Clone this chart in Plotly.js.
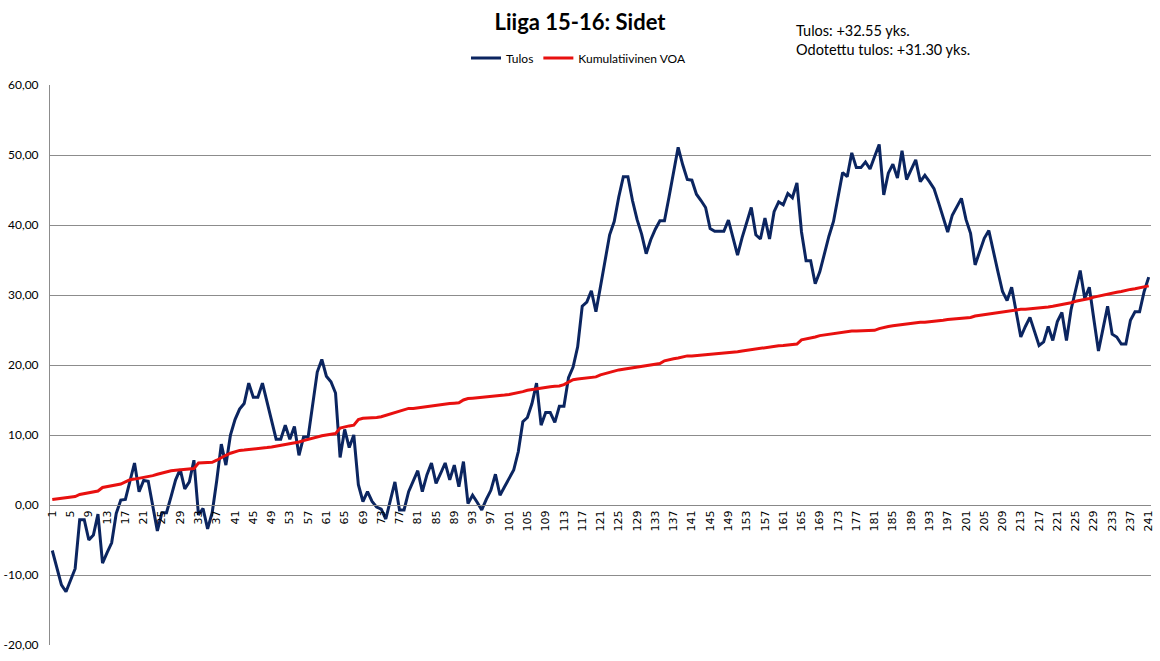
<!DOCTYPE html>
<html>
<head>
<meta charset="utf-8">
<script src="https://cdn.plot.ly/plotly-3.0.1.min.js"></script>
<style>
html,body{margin:0;padding:0;background:#fff;}
#chart{width:1160px;height:661px;}
</style>
</head>
<body>
<div id="chart"></div>
<script>
const tulos = [
-6.5,-8.9,-11.4,-12.4,-10.6,-9.1,-2.1,-2.1,-5.0,-4.3,
-1.3,-8.3,-6.8,-5.4,-1.2,0.7,0.8,3.3,6.0,1.9,
3.5,3.4,0.0,-3.7,-1.1,-1.1,1.2,3.6,5.1,2.3,
3.3,6.4,-1.4,-0.5,-3.4,-1.1,3.5,8.7,5.7,10.0,
12.2,13.7,14.5,17.4,15.4,15.4,17.4,14.8,12.1,9.4,
9.4,11.4,9.4,11.2,7.1,9.7,9.7,14.5,19.0,20.8,
18.4,17.6,16.0,6.8,10.8,8.2,10.0,2.9,0.5,1.9,
0.5,-0.3,-0.6,-2.0,0.8,3.3,-0.7,-0.7,1.9,3.4,
4.9,1.9,4.3,6.0,3.1,4.5,6.0,3.6,5.7,2.6,
6.2,0.2,1.4,0.4,-0.7,0.8,2.1,4.4,1.4,2.6,
3.9,5.0,7.6,11.9,12.5,14.5,17.4,11.4,13.2,13.2,
11.8,14.1,14.1,18.2,19.7,22.6,28.4,29.0,30.6,27.6,
31.2,35.0,38.6,40.5,44.0,46.9,46.9,43.5,40.8,38.7,
35.9,37.9,39.4,40.6,40.6,44.0,47.5,51.1,48.6,46.5,
46.4,44.4,43.5,42.5,39.5,39.1,39.1,39.1,40.7,38.2,
35.7,38.2,40.4,42.5,38.6,38.0,41.0,38.0,41.9,43.3,
42.9,44.5,43.9,46.0,39.0,34.9,34.9,31.6,33.3,36.0,
38.4,40.5,44.0,47.5,46.9,50.3,48.2,48.2,49.0,48.0,
49.8,51.5,44.3,47.4,48.7,46.7,50.6,46.5,47.9,49.3,
46.2,47.1,46.2,45.2,43.2,41.2,39.0,41.4,42.7,43.8,
40.8,38.8,34.3,36.3,38.1,39.2,36.0,33.3,30.5,29.2,
31.1,27.6,24.0,25.5,26.8,24.8,22.8,23.3,25.5,23.5,
26.2,27.5,23.5,27.9,30.6,33.5,29.5,31.1,26.5,22.0,
25.2,28.4,24.4,24.0,23.0,23.0,26.4,27.6,27.6,30.5,
32.55
];
const voa = [
0.8,0.9,0.95,1.0,1.1,1.2,1.5,1.6,1.7,1.8,
2.0,2.5,2.6,2.7,2.9,3.0,3.3,3.6,3.7,3.8,
3.9,4.0,4.2,4.4,4.6,4.8,4.9,4.95,5.0,5.1,
5.15,5.2,6.0,6.0,6.05,6.1,6.4,6.8,7.1,7.4,
7.6,7.8,7.85,7.9,7.95,8.0,8.1,8.2,8.3,8.4,
8.5,8.6,8.7,8.8,9.0,9.2,9.4,9.6,9.8,9.9,
10.0,10.1,10.2,11.0,11.2,11.3,11.4,12.2,12.4,12.4,
12.5,12.5,12.6,12.8,13.1,13.2,13.4,13.7,13.8,13.8,
13.9,13.9,14.0,14.1,14.2,14.3,14.4,14.5,14.55,14.6,
15.0,15.2,15.25,15.3,15.35,15.4,15.5,15.55,15.6,15.7,
15.8,15.9,16.1,16.2,16.4,16.5,16.7,16.75,16.8,16.9,
16.95,17.0,17.2,17.5,17.9,18.0,18.1,18.15,18.2,18.3,
18.6,18.8,18.9,19.1,19.3,19.4,19.5,19.6,19.7,19.8,
19.9,20.0,20.1,20.2,20.6,20.8,20.9,21.0,21.2,21.3,
21.3,21.35,21.4,21.45,21.5,21.6,21.6,21.7,21.75,21.8,
21.9,22.0,22.1,22.2,22.3,22.45,22.55,22.65,22.7,22.75,
22.8,22.85,22.9,23.0,23.6,23.7,23.9,24.0,24.2,24.3,
24.4,24.5,24.6,24.7,24.8,24.85,24.85,24.9,24.9,24.9,
24.95,25.2,25.4,25.5,25.6,25.7,25.8,25.9,26.0,26.0,
26.1,26.1,26.15,26.2,26.3,26.4,26.5,26.55,26.6,26.7,
26.75,26.8,27.0,27.1,27.2,27.25,27.3,27.4,27.5,27.6,
27.8,27.9,27.95,27.95,28.0,28.1,28.15,28.2,28.3,28.4,
28.5,28.6,28.75,28.9,29.1,29.2,29.35,29.5,29.7,29.85,
30.0,30.2,30.3,30.4,30.5,30.7,30.8,30.9,31.0,31.15,
31.3
];
const games = tulos.map((_, i) => i + 1);
const xTickVals = games.filter(g => (g - 1) % 4 === 0);
const xTickText = xTickVals.map(String);
const yTickVals = [-20, -10, 0, 10, 20, 30, 40, 50, 60];
const yTickText = ["-20,00", "-10,00", "0,00", "10,00", "20,00", "30,00", "40,00", "50,00", "60,00"];
const titleText = "Liiga 15-16: Sidet";
const infoText = "Tulos: +32.55 yks.<br>Odotettu tulos: +31.30 yks.";

const traces = [
  {x: games, y: tulos, type: 'scatter', mode: 'lines', name: 'Tulos',
   line: {color: '#0b2560', width: 3}},
  {x: games, y: voa, type: 'scatter', mode: 'lines', name: 'Kumulatiivinen VOA',
   line: {color: '#e8100f', width: 3}}
];

const layout = {
  width: 1160, height: 661,
  margin: {l: 50, r: 9, t: 85, b: 16},
  paper_bgcolor: '#ffffff', plot_bgcolor: '#ffffff',
  font: {family: 'Lato, "Open Sans", sans-serif', color: '#000', size: 12},
  title: {text: '<b>' + titleText + '</b>', x: 0.5, xanchor: 'center', xref: 'container',
          y: 1 - 22/661, yanchor: 'middle', yref: 'container',
          font: {size: 22, family: 'Lato, "Open Sans", sans-serif', color: '#000'}},
  showlegend: true,
  legend: {orientation: 'h', x: (466-50)/1101, xanchor: 'left', y: 1 + 27/560, yanchor: 'middle',
           font: {size: 12, family: 'Lato, sans-serif'}, itemwidth: 30, tracegroupgap: 0},
  xaxis: {
    range: [0.5, 241.5], tickmode: 'array', tickvals: xTickVals, ticktext: xTickText,
    tickangle: -90, showgrid: false, zeroline: false, showline: true, linecolor: '#888', linewidth: 1,
    anchor: 'free', position: 0.25, ticks: '', ticklen: 0,
    tickfont: {family: '"DejaVu Sans", sans-serif', size: 11, color: '#000'}
  },
  yaxis: {
    range: [-20, 60], tickmode: 'array', tickvals: yTickVals, ticktext: yTickText,
    showgrid: true, gridcolor: '#8c8c8c', gridwidth: 1, zeroline: false,
    showline: true, linecolor: '#8c8c8c', linewidth: 1, ticks: '',
    ticklabelstandoff: 8,
    tickfont: {family: 'Lato, sans-serif', size: 12, color: '#000'}
  },
  annotations: [
    {text: infoText, xref: 'paper', yref: 'paper', x: (794-50)/1101, y: 1 + 65/560,
     xanchor: 'left', yanchor: 'top', align: 'left', showarrow: false,
     font: {size: 14.5, family: 'Lato, sans-serif', color: '#000'}}
  ]
};

Plotly.newPlot('chart', traces, layout, {displayModeBar: false, staticPlot: true});
</script>
</body>
</html>
